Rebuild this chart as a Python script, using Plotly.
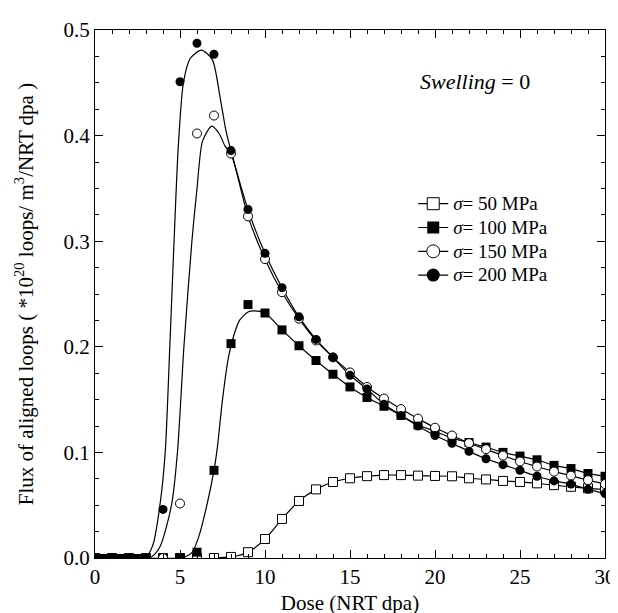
import plotly.graph_objects as go

# ---- data ----
dose = list(range(0, 31))

s50 = [0, 0, 0, 0, 0, 0, 0, 0, 0.001, 0.0055, 0.018, 0.037, 0.054, 0.065, 0.072, 0.0755,
       0.0775, 0.0785, 0.0785, 0.078, 0.0777, 0.0774, 0.0755, 0.0744, 0.073, 0.072,
       0.0707, 0.069, 0.0674, 0.066, 0.065]
s100 = [0, 0, 0, 0, 0, 0, 0.0055, 0.083, 0.203, 0.240, 0.232, 0.216, 0.201, 0.187, 0.174,
        0.162, 0.152, 0.1437, 0.135, 0.126, 0.120, 0.1135, 0.1094, 0.105, 0.100, 0.0965,
        0.093, 0.0877, 0.0847, 0.080, 0.0774]
s150 = [0, 0, 0, 0, 0, 0.0516, 0.402, 0.419, 0.383, 0.3235, 0.283, 0.2517, 0.2266, 0.206,
        0.19, 0.1757, 0.162, 0.151, 0.141, 0.132, 0.1234, 0.116, 0.1087, 0.103, 0.097,
        0.0914, 0.0866, 0.0818, 0.078, 0.0737, 0.070]
s200 = [0, 0, 0, 0, 0.046, 0.451, 0.4875, 0.477, 0.3858, 0.33, 0.2885, 0.256, 0.2284, 0.207,
        0.19, 0.173, 0.160, 0.1455, 0.135, 0.125, 0.116, 0.1087, 0.101, 0.094, 0.0884,
        0.083, 0.0774, 0.073, 0.070, 0.065, 0.061]

# fitted curves (early, rising part)
fit100_x = [0, 4.95, 5.3, 5.7, 6.1, 6.58, 7.0, 7.2, 7.5, 7.85, 8.15, 8.5, 9.0, 9.35, 10]
fit100_y = [0, 0, 0.001, 0.005, 0.02, 0.05, 0.083, 0.105, 0.15, 0.19, 0.21, 0.225, 0.233, 0.234, 0.232]
fit150_x = [0, 3.2, 3.8, 4.5, 4.85, 5.23, 5.7, 6.0, 6.33, 6.87, 7.3, 7.65, 8]
fit150_y = [0, 0, 0.01, 0.05, 0.1, 0.2, 0.3, 0.35, 0.395, 0.409, 0.402, 0.39, 0.383]
fit200_x = [0, 2.95, 3.4, 3.82, 4.13, 4.4, 4.65, 4.9, 5.2, 5.6, 6.25, 6.9, 7.35, 7.7, 8]
fit200_y = [0, 0, 0.012, 0.05, 0.1, 0.2, 0.3, 0.39, 0.45, 0.473, 0.481, 0.472, 0.437, 0.405, 0.3858]

labels = ["<i>σ</i>= 50 MPa", "<i>σ</i>= 100 MPa", "<i>σ</i>= 150 MPa", "<i>σ</i>= 200 MPa"]
annotation_text = "<i>Swelling</i> = 0"
x_title = "Dose (NRT dpa)"
y_title = "Flux of aligned loops ( *10<sup>20</sup> loops/ m<sup>3</sup>/NRT dpa )"

FONT = "Liberation Serif, Tinos, Times New Roman, Times, serif"
BLACK = "#000000"

fig = go.Figure()


def join(fx, fy, ys):
    xs = list(fx) + [d for d in dose if d > fx[-1]]
    yv = list(fy) + [ys[i] for i, d in enumerate(dose) if d > fx[-1]]
    return xs, yv


# line traces
line50_x = [d for d in dose if d >= 7]
line50_y = [s50[i] for i, d in enumerate(dose) if d >= 7]
lines = [
    (line50_x, line50_y),
    join(fit100_x, fit100_y, s100),
    join(fit150_x, fit150_y, s150),
    join(fit200_x, fit200_y, s200),
]
for lx, ly in lines:
    fig.add_trace(go.Scatter(x=lx, y=ly, mode="lines", showlegend=False,
                             line=dict(color=BLACK, width=1.2, shape="spline", smoothing=0.7),
                             hoverinfo="skip"))

# zero band at the start (points where all series are still zero)
zero_x = [d for i, d in enumerate(dose) if s200[i] == 0 and s150[i] == 0 and s100[i] == 0]
zero_y = [0 for _ in zero_x]
fig.add_trace(go.Scatter(x=zero_x, y=zero_y, mode="lines", showlegend=False,
                         line=dict(color=BLACK, width=8), hoverinfo="skip"))

styles = [
    dict(symbol="square", size=9, color="white", line=dict(color=BLACK, width=1)),
    dict(symbol="square", size=9, color=BLACK),
    dict(symbol="circle", size=9, color="white", line=dict(color=BLACK, width=1)),
    dict(symbol="circle", size=9, color=BLACK),
]
series = [s50, s100, s150, s200]
for ys, st in zip(series, styles):
    fig.add_trace(go.Scatter(x=dose, y=ys, mode="markers", showlegend=False, marker=st))

# legend entries
leg_styles = [
    dict(symbol="square", size=12, color="white", line=dict(color=BLACK, width=1)),
    dict(symbol="square", size=12, color=BLACK),
    dict(symbol="circle", size=13, color="white", line=dict(color=BLACK, width=1)),
    dict(symbol="circle", size=13, color=BLACK),
]
for lab, st in zip(labels, leg_styles):
    fig.add_trace(go.Scatter(x=[None], y=[None], mode="lines+markers",
                             name='<span style="font-size:19px">' + lab + "</span>",
                             marker=st, line=dict(color=BLACK, width=1.2)))

fig.add_annotation(x=19.0, y=0.451, xref="x", yref="y", text=annotation_text,
                   showarrow=False, xanchor="left", yanchor="middle",
                   font=dict(family=FONT, size=22, color=BLACK))

axis_common = dict(showline=True, linecolor=BLACK, linewidth=1.3, mirror="ticks",
                   ticks="inside", ticklen=8, tickwidth=1.2, tickcolor=BLACK,
                   showgrid=False, zeroline=False,
                   tickfont=dict(family=FONT, size=21, color=BLACK))

fig.update_xaxes(range=[0, 30], dtick=5, tick0=0,
                 minor=dict(dtick=1, ticks="inside", ticklen=4, tickcolor=BLACK, tickwidth=1),
                 title=dict(text=x_title, font=dict(family=FONT, size=21, color=BLACK),
                            standoff=6),
                 **axis_common)
fig.update_yaxes(range=[0, 0.5], dtick=0.1, tick0=0, tickformat=".1f",
                 minor=dict(dtick=0.025, ticks="inside", ticklen=4, tickcolor=BLACK, tickwidth=1),
                 title=dict(text=y_title, font=dict(family=FONT, size=21, color=BLACK),
                            standoff=24),
                 **axis_common)

fig.update_layout(
    width=618, height=613,
    margin=dict(l=87, r=10, t=17, b=63),
    paper_bgcolor="white", plot_bgcolor="white",
    font=dict(family=FONT, color=BLACK),
    legend=dict(x=0.624, y=0.703, xanchor="left", yanchor="top",
                font=dict(family=FONT, size=16, color=BLACK),
                bgcolor="rgba(0,0,0,0)", tracegroupgap=0, itemwidth=30),
)

fig.write_html("out.html")
